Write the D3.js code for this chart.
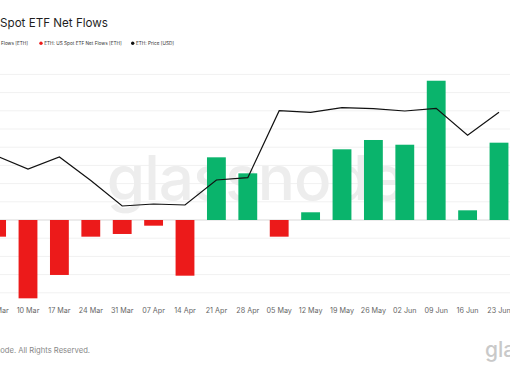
<!DOCTYPE html>
<html><head><meta charset="utf-8">
<script src="https://cdn.jsdelivr.net/npm/d3@7"></script>
<style>html,body{margin:0;padding:0;background:#fff;overflow:hidden}svg{display:block;font-family:Inter,"Noto Sans",sans-serif}</style>
</head><body>
<svg id="c" width="510" height="369"></svg>
<script>
const weeks = ["03 Mar","10 Mar","17 Mar","24 Mar","31 Mar","07 Apr","14 Apr","21 Apr","28 Apr","05 May","12 May","19 May","26 May","02 Jun","09 Jun","16 Jun","23 Jun"];
const netFlowsEth = [-22900,-107600,-75500,-22900,-19200,-7800,-76500,86100,64100,-22900,10600,97100,109900,103400,191300,13300,106200];
const priceUsd = [2090,1960,2080,1845,1590,1610,1600,1850,1873,2543,2527,2573,2563,2540,2567,2297,2527];
const flowTicks = [-100000,-75000,-50000,-25000,0,25000,50000,75000,100000,125000,150000,175000,200000];
const legendLabels = ["ETH: US Spot ETF Net Flows [ETH]","ETH: US Spot ETF Net Flows [ETH]","ETH: Price [USD]"];
const legendColors = ["#0ab46c","#ec1a1a","#111111"];

const svg = d3.select("#c");
const GREEN = "#0ab46c", RED = "#ec1a1a";

// measure helper: width of a string at font-size 10
function measure(str, weight) {
  const t = svg.append("text").attr("font-size", 10).attr("font-weight", weight || 400).text(str);
  const w = t.node().getComputedTextLength();
  t.remove();
  return w;
}

const x = d3.scaleBand().domain(weeks).range([-19.1, 514.7]).paddingInner(0.4).paddingOuter(0.2);
const y = d3.scaleLinear().domain([-100000, 200000]).range([292.8, 74.4]);
const yp = d3.scaleLinear().domain([1450, 2900]).range([220, 75]);

// gridlines
svg.append("g").selectAll("line").data(flowTicks).join("line")
  .attr("x1", 0).attr("x2", 510)
  .attr("y1", d => y(d)).attr("y2", d => y(d))
  .attr("stroke", d => d === 0 ? "#d9d9d9" : "#f1f1f1").attr("stroke-width", 1);

// watermark
svg.append("text").attr("x", 255).attr("y", 200).attr("text-anchor", "middle")
  .attr("font-size", 62).attr("font-weight", 500).attr("fill", "#ededed")
  .attr("letter-spacing", -1).text("glassnode");

// bars
svg.append("g").selectAll("rect").data(weeks).join("rect")
  .attr("x", d => x(d)).attr("width", x.bandwidth())
  .attr("y", (d, i) => y(Math.max(0, netFlowsEth[i])))
  .attr("height", (d, i) => Math.abs(y(netFlowsEth[i]) - y(0)))
  .attr("fill", (d, i) => netFlowsEth[i] >= 0 ? GREEN : RED);

// price line
const line = d3.line().x((d, i) => x(weeks[i]) + x.bandwidth() / 2).y(d => yp(d));
svg.append("path").datum(priceUsd).attr("d", line)
  .attr("fill", "none").attr("stroke", "#111").attr("stroke-width", 1.2).attr("stroke-linejoin", "miter");

// x axis labels
const xa = d3.axisBottom(x).tickSize(0).tickPadding(0);
const gx = svg.append("g").attr("transform", "translate(0,308)").call(xa);
gx.select(".domain").remove();
gx.selectAll("text").attr("font-size", 7.2).attr("fill", "#666").attr("font-family", "Inter,sans-serif");

// title: "Spot ETF Net Flows" spans ~0..108
const titleFs = 10 * 108 / measure("Spot ETF Net Flows", 400);
svg.append("text").attr("x", 108).attr("y", 27).attr("text-anchor", "end")
  .attr("font-size", titleFs).attr("fill", "#1e1e1e").text("ETH: US Spot ETF Net Flows");

// legend: red item text spans ~44..121.7
const legFs = 10 * 77.7 / measure(legendLabels[1], 400);
const lg = svg.append("g").attr("font-size", legFs).attr("fill", "#333");
const ends = [28, 121.7, 174];
legendLabels.forEach((t, i) => {
  const tx = lg.append("text").attr("x", ends[i]).attr("y", 45.2).attr("text-anchor", "end").text(t);
  const w = tx.node().getComputedTextLength();
  lg.append("circle").attr("cx", ends[i] - w - 3.3).attr("cy", 43.3).attr("r", 1.7).attr("fill", legendColors[i]);
});

// footer: "ode. All Rights Reserved." spans ~0..90
const footFs = 10 * 90 / measure("ode. All Rights Reserved.", 400);
svg.append("text").attr("x", 90).attr("y", 353).attr("text-anchor", "end")
  .attr("font-size", footFs).attr("fill", "#888").text("© 2025 Glassnode. All Rights Reserved.");
svg.append("text").attr("x", 485).attr("y", 357)
  .attr("font-size", 21).attr("font-weight", 500).attr("fill", "#c9c9c9").text("glassnode");
</script>
</body></html>
